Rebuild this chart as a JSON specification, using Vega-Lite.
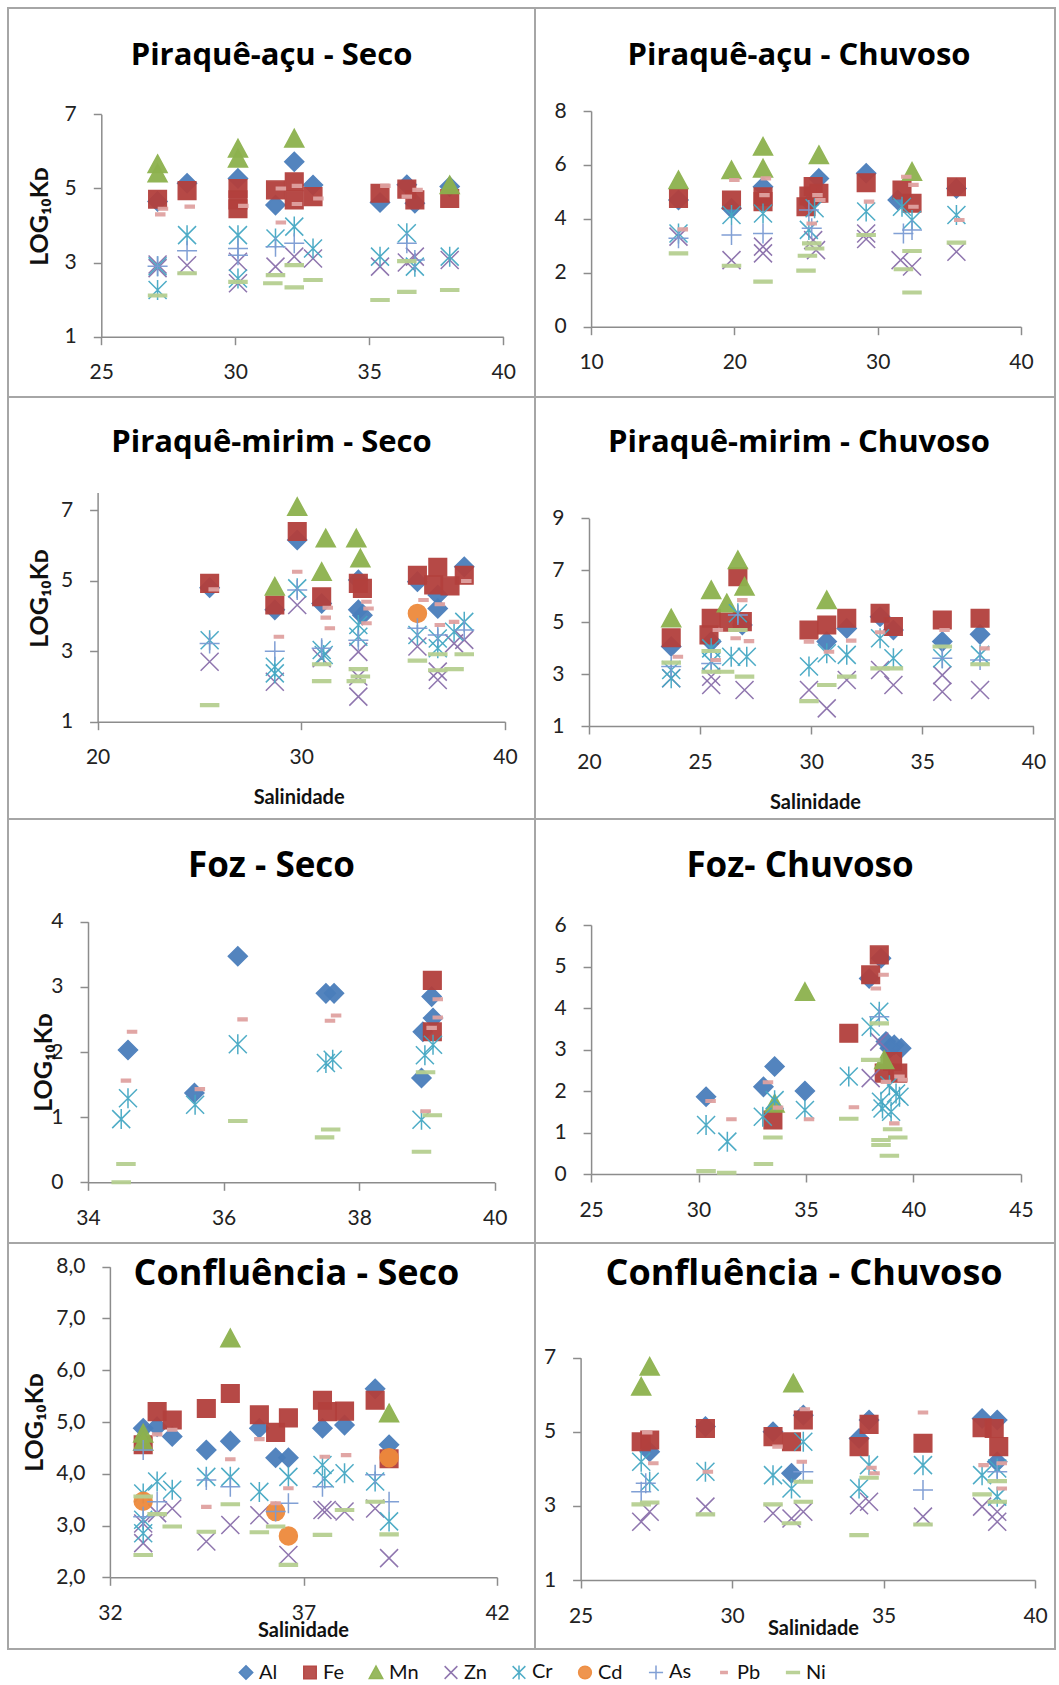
{
"$schema": "https://vega.github.io/schema/vega-lite/v6.json",
"background": "white",
"padding": {"left": 7, "top": 7, "right": 0, "bottom": 0},
"columns": 2,
"spacing": 0,
"bounds": "flush",
"align": "each",
"datasets": {
"p1": [
{"m":"Al","s":27.1,"k":4.65},{"m":"Al","s":28.2,"k":5.14},{"m":"Al","s":30.1,"k":5.27},{"m":"Al","s":31.5,"k":4.55},{"m":"Al","s":32.2,"k":5.72},{"m":"Al","s":32.9,"k":5.09},{"m":"Al","s":35.4,"k":4.62},{"m":"Al","s":36.4,"k":5.1},{"m":"Al","s":36.7,"k":4.6},{"m":"Al","s":38.0,"k":5.05},
{"m":"Fe","s":27.1,"k":4.71},{"m":"Fe","s":28.2,"k":4.94},{"m":"Fe","s":30.1,"k":5.0},{"m":"Fe","s":30.1,"k":4.69},{"m":"Fe","s":30.1,"k":4.45},{"m":"Fe","s":31.5,"k":4.96},{"m":"Fe","s":32.2,"k":5.18},{"m":"Fe","s":32.2,"k":4.69},{"m":"Fe","s":32.9,"k":4.78},{"m":"Fe","s":35.4,"k":4.87},{"m":"Fe","s":36.4,"k":4.98},{"m":"Fe","s":36.7,"k":4.69},{"m":"Fe","s":38.0,"k":4.73},
{"m":"Mn","s":27.1,"k":5.66},{"m":"Mn","s":27.1,"k":5.41},{"m":"Mn","s":30.1,"k":6.08},{"m":"Mn","s":30.1,"k":5.81},{"m":"Mn","s":32.2,"k":6.35},{"m":"Mn","s":38.0,"k":5.09},
{"m":"Zn","s":27.1,"k":2.95},{"m":"Zn","s":27.1,"k":2.85},{"m":"Zn","s":28.2,"k":2.93},{"m":"Zn","s":30.1,"k":3.02},{"m":"Zn","s":30.1,"k":2.44},{"m":"Zn","s":31.5,"k":2.89},{"m":"Zn","s":32.2,"k":3.16},{"m":"Zn","s":32.9,"k":3.11},{"m":"Zn","s":35.4,"k":2.89},{"m":"Zn","s":36.4,"k":3.0},{"m":"Zn","s":36.7,"k":3.16},{"m":"Zn","s":38.0,"k":3.07},
{"m":"Cr","s":27.1,"k":2.9},{"m":"Cr","s":27.1,"k":2.26},{"m":"Cr","s":28.2,"k":3.74},{"m":"Cr","s":30.1,"k":3.74},{"m":"Cr","s":30.1,"k":2.57},{"m":"Cr","s":31.5,"k":3.65},{"m":"Cr","s":32.2,"k":3.97},{"m":"Cr","s":32.9,"k":3.38},{"m":"Cr","s":35.4,"k":3.16},{"m":"Cr","s":36.4,"k":3.79},{"m":"Cr","s":36.7,"k":2.89},{"m":"Cr","s":38.0,"k":3.16},
{"m":"As","s":27.1,"k":2.9},{"m":"As","s":28.2,"k":3.32},{"m":"As","s":30.1,"k":3.38},{"m":"As","s":30.1,"k":3.2},{"m":"As","s":31.5,"k":3.43},{"m":"As","s":32.2,"k":3.52},{"m":"As","s":36.4,"k":3.52},{"m":"As","s":36.7,"k":3.07},
{"m":"Pb","s":27.3,"k":4.45},{"m":"Pb","s":27.2,"k":4.3},{"m":"Pb","s":28.3,"k":4.51},{"m":"Pb","s":30.3,"k":4.53},{"m":"Pb","s":31.7,"k":5.0},{"m":"Pb","s":31.7,"k":4.08},{"m":"Pb","s":32.3,"k":5.07},{"m":"Pb","s":32.3,"k":4.58},{"m":"Pb","s":33.1,"k":4.73},{"m":"Pb","s":35.6,"k":5.07},{"m":"Pb","s":36.4,"k":4.78},{"m":"Pb","s":36.8,"k":4.96},
{"m":"Ni","s":27.1,"k":2.11},{"m":"Ni","s":28.2,"k":2.71},{"m":"Ni","s":30.1,"k":2.48},{"m":"Ni","s":31.5,"k":2.66},{"m":"Ni","s":31.4,"k":2.44},{"m":"Ni","s":32.2,"k":2.93},{"m":"Ni","s":32.2,"k":2.33},{"m":"Ni","s":32.9,"k":2.53},{"m":"Ni","s":35.4,"k":1.99},{"m":"Ni","s":36.4,"k":3.04},{"m":"Ni","s":36.4,"k":2.21},{"m":"Ni","s":38.0,"k":2.26}
],
"p2": [
{"m":"Al","s":16.1,"k":4.7},{"m":"Al","s":19.8,"k":4.39},{"m":"Al","s":22.0,"k":5.19},{"m":"Al","s":25.9,"k":5.5},{"m":"Al","s":25.3,"k":4.6},{"m":"Al","s":29.2,"k":5.69},{"m":"Al","s":31.4,"k":4.7},{"m":"Al","s":35.5,"k":5.13},
{"m":"Fe","s":16.1,"k":4.76},{"m":"Fe","s":19.8,"k":4.7},{"m":"Fe","s":22.0,"k":4.82},{"m":"Fe","s":22.0,"k":4.64},{"m":"Fe","s":25.5,"k":5.2},{"m":"Fe","s":25.2,"k":4.85},{"m":"Fe","s":25.0,"k":4.45},{"m":"Fe","s":25.9,"k":4.95},{"m":"Fe","s":29.2,"k":5.34},{"m":"Fe","s":31.7,"k":5.07},{"m":"Fe","s":32.4,"k":4.58},{"m":"Fe","s":35.5,"k":5.19},
{"m":"Mn","s":16.1,"k":5.44},{"m":"Mn","s":19.8,"k":5.81},{"m":"Mn","s":22.0,"k":6.68},{"m":"Mn","s":22.0,"k":5.87},{"m":"Mn","s":25.9,"k":6.37},{"m":"Mn","s":32.4,"k":5.75},
{"m":"Zn","s":16.1,"k":3.34},{"m":"Zn","s":19.8,"k":2.47},{"m":"Zn","s":22.0,"k":2.97},{"m":"Zn","s":22.0,"k":2.72},{"m":"Zn","s":25.5,"k":3.21},{"m":"Zn","s":25.7,"k":2.84},{"m":"Zn","s":29.2,"k":3.46},{"m":"Zn","s":29.2,"k":3.25},{"m":"Zn","s":31.6,"k":2.47},{"m":"Zn","s":32.4,"k":2.23},{"m":"Zn","s":35.5,"k":2.78},
{"m":"Cr","s":16.1,"k":3.46},{"m":"Cr","s":19.8,"k":4.14},{"m":"Cr","s":22.0,"k":4.2},{"m":"Cr","s":25.6,"k":4.39},{"m":"Cr","s":25.2,"k":3.59},{"m":"Cr","s":29.2,"k":4.27},{"m":"Cr","s":31.7,"k":4.45},{"m":"Cr","s":32.4,"k":3.96},{"m":"Cr","s":35.5,"k":4.14},
{"m":"As","s":16.1,"k":3.28},{"m":"As","s":19.8,"k":3.4},{"m":"As","s":22.0,"k":3.46},{"m":"As","s":25.2,"k":4.33},{"m":"As","s":25.4,"k":3.65},{"m":"As","s":31.8,"k":3.46},{"m":"As","s":32.4,"k":3.59},
{"m":"Pb","s":16.4,"k":3.61},{"m":"Pb","s":20.0,"k":5.44},{"m":"Pb","s":22.2,"k":5.5},{"m":"Pb","s":22.1,"k":4.88},{"m":"Pb","s":25.8,"k":4.88},{"m":"Pb","s":25.4,"k":3.83},{"m":"Pb","s":26.0,"k":4.7},{"m":"Pb","s":29.4,"k":4.64},{"m":"Pb","s":32.0,"k":5.56},{"m":"Pb","s":32.5,"k":5.26},{"m":"Pb","s":32.5,"k":4.45},{"m":"Pb","s":35.7,"k":3.96},
{"m":"Ni","s":16.1,"k":2.72},{"m":"Ni","s":19.8,"k":2.26},{"m":"Ni","s":22.0,"k":1.67},{"m":"Ni","s":25.4,"k":3.09},{"m":"Ni","s":25.6,"k":2.9},{"m":"Ni","s":25.1,"k":2.63},{"m":"Ni","s":25.0,"k":2.08},{"m":"Ni","s":29.2,"k":3.4},{"m":"Ni","s":31.8,"k":2.13},{"m":"Ni","s":32.4,"k":2.81},{"m":"Ni","s":32.4,"k":1.27},{"m":"Ni","s":35.5,"k":3.12}
],
"p3": [
{"m":"Al","s":25.5,"k":4.8},{"m":"Al","s":28.7,"k":4.17},{"m":"Al","s":29.8,"k":6.15},{"m":"Al","s":31.0,"k":4.35},{"m":"Al","s":32.8,"k":5.02},{"m":"Al","s":32.8,"k":4.17},{"m":"Al","s":33.0,"k":4.02},{"m":"Al","s":35.7,"k":4.97},{"m":"Al","s":36.7,"k":4.59},{"m":"Al","s":36.7,"k":4.21},{"m":"Al","s":38.0,"k":5.39},
{"m":"Fe","s":25.5,"k":4.92},{"m":"Fe","s":28.7,"k":4.31},{"m":"Fe","s":29.8,"k":6.39},{"m":"Fe","s":31.0,"k":4.54},{"m":"Fe","s":32.8,"k":4.92},{"m":"Fe","s":33.0,"k":4.78},{"m":"Fe","s":35.7,"k":5.15},{"m":"Fe","s":36.7,"k":5.38},{"m":"Fe","s":36.5,"k":4.88},{"m":"Fe","s":37.3,"k":4.85},{"m":"Fe","s":38.0,"k":5.15},
{"m":"Mn","s":28.7,"k":4.83},{"m":"Mn","s":29.8,"k":7.09},{"m":"Mn","s":31.0,"k":5.25},{"m":"Mn","s":31.2,"k":6.2},{"m":"Mn","s":32.7,"k":6.2},{"m":"Mn","s":32.9,"k":5.63},
{"m":"Zn","s":25.5,"k":2.7},{"m":"Zn","s":28.7,"k":2.13},{"m":"Zn","s":29.8,"k":4.31},{"m":"Zn","s":31.0,"k":2.8},{"m":"Zn","s":32.8,"k":2.98},{"m":"Zn","s":32.8,"k":2.28},{"m":"Zn","s":32.8,"k":1.71},{"m":"Zn","s":35.7,"k":3.13},{"m":"Zn","s":36.7,"k":2.42},{"m":"Zn","s":36.7,"k":2.18},{"m":"Zn","s":37.5,"k":3.22},{"m":"Zn","s":38.0,"k":3.32},
{"m":"Cr","s":25.5,"k":3.31},{"m":"Cr","s":28.7,"k":2.56},{"m":"Cr","s":28.7,"k":2.37},{"m":"Cr","s":29.8,"k":4.78},{"m":"Cr","s":31.0,"k":3.03},{"m":"Cr","s":31.1,"k":2.89},{"m":"Cr","s":32.8,"k":3.74},{"m":"Cr","s":32.8,"k":3.41},{"m":"Cr","s":35.7,"k":3.46},{"m":"Cr","s":36.7,"k":3.36},{"m":"Cr","s":36.7,"k":3.08},{"m":"Cr","s":37.5,"k":3.55},{"m":"Cr","s":38.0,"k":3.83},
{"m":"Cd","s":35.7,"k":4.07},
{"m":"As","s":25.5,"k":3.22},{"m":"As","s":28.7,"k":3.0},{"m":"As","s":29.8,"k":4.73},{"m":"As","s":31.0,"k":3.08},{"m":"As","s":32.8,"k":3.31},{"m":"As","s":35.7,"k":3.65},{"m":"As","s":36.7,"k":3.46},{"m":"As","s":38.0,"k":3.6},
{"m":"Pb","s":25.7,"k":4.75},{"m":"Pb","s":28.9,"k":3.41},{"m":"Pb","s":29.8,"k":5.25},{"m":"Pb","s":31.3,"k":4.23},{"m":"Pb","s":31.2,"k":3.95},{"m":"Pb","s":31.4,"k":3.65},{"m":"Pb","s":33.2,"k":4.4},{"m":"Pb","s":33.3,"k":4.21},{"m":"Pb","s":33.2,"k":3.79},{"m":"Pb","s":36.0,"k":4.45},{"m":"Pb","s":36.8,"k":4.33},{"m":"Pb","s":36.8,"k":3.74},{"m":"Pb","s":37.5,"k":3.83},{"m":"Pb","s":38.1,"k":4.99},
{"m":"Ni","s":25.5,"k":1.47},{"m":"Ni","s":31.0,"k":2.63},{"m":"Ni","s":31.0,"k":2.15},{"m":"Ni","s":32.8,"k":2.49},{"m":"Ni","s":32.9,"k":2.28},{"m":"Ni","s":32.7,"k":2.15},{"m":"Ni","s":35.7,"k":2.73},{"m":"Ni","s":36.7,"k":2.91},{"m":"Ni","s":36.7,"k":2.46},{"m":"Ni","s":37.5,"k":2.49},{"m":"Ni","s":38.0,"k":2.91}
],
"p4": [
{"m":"Al","s":23.7,"k":4.06},{"m":"Al","s":25.5,"k":4.25},{"m":"Al","s":26.9,"k":4.89},{"m":"Al","s":30.7,"k":4.25},{"m":"Al","s":31.6,"k":4.76},{"m":"Al","s":33.1,"k":5.21},{"m":"Al","s":33.7,"k":4.7},{"m":"Al","s":35.9,"k":4.25},{"m":"Al","s":37.6,"k":4.53},
{"m":"Fe","s":23.7,"k":4.4},{"m":"Fe","s":25.5,"k":5.15},{"m":"Fe","s":25.4,"k":4.51},{"m":"Fe","s":26.7,"k":6.75},{"m":"Fe","s":26.9,"k":5.02},{"m":"Fe","s":26.3,"k":5.0},{"m":"Fe","s":29.9,"k":4.7},{"m":"Fe","s":30.7,"k":4.89},{"m":"Fe","s":31.6,"k":5.15},{"m":"Fe","s":33.1,"k":5.34},{"m":"Fe","s":33.7,"k":4.83},{"m":"Fe","s":35.9,"k":5.08},{"m":"Fe","s":37.6,"k":5.15},
{"m":"Mn","s":23.7,"k":5.15},{"m":"Mn","s":25.5,"k":6.24},{"m":"Mn","s":26.2,"k":5.73},{"m":"Mn","s":26.7,"k":7.39},{"m":"Mn","s":27.0,"k":6.37},{"m":"Mn","s":30.7,"k":5.85},
{"m":"Zn","s":23.7,"k":2.84},{"m":"Zn","s":25.5,"k":2.9},{"m":"Zn","s":25.5,"k":2.58},{"m":"Zn","s":27.0,"k":2.39},{"m":"Zn","s":29.9,"k":2.39},{"m":"Zn","s":30.7,"k":1.68},{"m":"Zn","s":31.6,"k":2.77},{"m":"Zn","s":33.1,"k":3.16},{"m":"Zn","s":33.7,"k":2.58},{"m":"Zn","s":35.9,"k":2.96},{"m":"Zn","s":35.9,"k":2.32},{"m":"Zn","s":37.6,"k":2.39},
{"m":"Cr","s":23.7,"k":3.16},{"m":"Cr","s":23.7,"k":2.84},{"m":"Cr","s":25.5,"k":3.99},{"m":"Cr","s":25.5,"k":3.48},{"m":"Cr","s":26.7,"k":5.34},{"m":"Cr","s":26.4,"k":3.67},{"m":"Cr","s":27.1,"k":3.67},{"m":"Cr","s":29.9,"k":3.29},{"m":"Cr","s":30.7,"k":3.8},{"m":"Cr","s":31.6,"k":3.74},{"m":"Cr","s":33.1,"k":4.38},{"m":"Cr","s":33.7,"k":3.61},{"m":"Cr","s":35.9,"k":3.61},{"m":"Cr","s":37.6,"k":3.74},
{"m":"As","s":23.7,"k":3.29},{"m":"As","s":25.5,"k":3.41},{"m":"As","s":26.7,"k":5.28},{"m":"As","s":35.9,"k":3.61},{"m":"As","s":37.6,"k":3.54},
{"m":"Pb","s":24.0,"k":3.67},{"m":"Pb","s":25.8,"k":4.7},{"m":"Pb","s":25.7,"k":3.54},{"m":"Pb","s":26.6,"k":4.38},{"m":"Pb","s":26.9,"k":5.85},{"m":"Pb","s":27.2,"k":4.27},{"m":"Pb","s":29.9,"k":4.25},{"m":"Pb","s":30.8,"k":3.86},{"m":"Pb","s":31.8,"k":4.29},{"m":"Pb","s":33.1,"k":4.61},{"m":"Pb","s":36.0,"k":4.7},{"m":"Pb","s":37.8,"k":3.99},
{"m":"Ni","s":23.7,"k":3.44},{"m":"Ni","s":25.5,"k":3.89},{"m":"Ni","s":25.5,"k":3.09},{"m":"Ni","s":26.1,"k":3.09},{"m":"Ni","s":26.7,"k":4.7},{"m":"Ni","s":27.0,"k":2.9},{"m":"Ni","s":29.9,"k":1.96},{"m":"Ni","s":30.7,"k":2.58},{"m":"Ni","s":31.6,"k":2.9},{"m":"Ni","s":33.1,"k":3.22},{"m":"Ni","s":33.7,"k":3.22},{"m":"Ni","s":35.9,"k":4.06},{"m":"Ni","s":37.6,"k":3.38}
],
"p5": [
{"m":"Al","s":34.59,"k":2.03},{"m":"Al","s":35.57,"k":1.37},{"m":"Al","s":36.21,"k":3.47},{"m":"Al","s":37.51,"k":2.9},{"m":"Al","s":37.63,"k":2.9},{"m":"Al","s":38.92,"k":1.6},{"m":"Al","s":39.07,"k":2.85},{"m":"Al","s":39.09,"k":2.52},{"m":"Al","s":38.94,"k":2.31},
{"m":"Fe","s":39.08,"k":3.1},{"m":"Fe","s":39.08,"k":2.31},
{"m":"Cr","s":34.59,"k":1.29},{"m":"Cr","s":34.49,"k":0.97},{"m":"Cr","s":35.58,"k":1.19},{"m":"Cr","s":36.21,"k":2.12},{"m":"Cr","s":37.51,"k":1.83},{"m":"Cr","s":37.61,"k":1.88},{"m":"Cr","s":38.97,"k":1.95},{"m":"Cr","s":39.09,"k":2.11},{"m":"Cr","s":38.92,"k":0.96},
{"m":"Pb","s":34.65,"k":2.31},{"m":"Pb","s":34.56,"k":1.56},{"m":"Pb","s":35.65,"k":1.43},{"m":"Pb","s":36.28,"k":2.5},{"m":"Pb","s":37.57,"k":2.48},{"m":"Pb","s":37.66,"k":2.56},{"m":"Pb","s":39.16,"k":2.81},{"m":"Pb","s":39.16,"k":2.53},{"m":"Pb","s":39.07,"k":2.37},{"m":"Pb","s":38.98,"k":1.09},
{"m":"Ni","s":34.49,"k":0.0},{"m":"Ni","s":34.56,"k":0.28},{"m":"Ni","s":36.21,"k":0.94},{"m":"Ni","s":37.49,"k":0.69},{"m":"Ni","s":37.58,"k":0.81},{"m":"Ni","s":38.92,"k":0.47},{"m":"Ni","s":38.98,"k":1.69},{"m":"Ni","s":39.08,"k":1.03}
],
"p6": [
{"m":"Al","s":30.35,"k":1.86},{"m":"Al","s":33.02,"k":2.1},{"m":"Al","s":33.54,"k":2.59},{"m":"Al","s":34.95,"k":2.0},{"m":"Al","s":37.94,"k":4.71},{"m":"Al","s":38.49,"k":5.2},{"m":"Al","s":38.72,"k":3.19},{"m":"Al","s":39.11,"k":3.11},{"m":"Al","s":39.43,"k":3.03},{"m":"Al","s":38.9,"k":3.03},
{"m":"Fe","s":36.99,"k":3.39},{"m":"Fe","s":38.41,"k":5.28},{"m":"Fe","s":38.01,"k":4.8},{"m":"Fe","s":33.46,"k":1.3},{"m":"Fe","s":39.03,"k":2.71},{"m":"Fe","s":38.64,"k":2.43},{"m":"Fe","s":39.27,"k":2.43},
{"m":"Mn","s":34.95,"k":4.39},{"m":"Mn","s":33.54,"k":1.7},{"m":"Mn","s":38.64,"k":2.75},
{"m":"Zn","s":38.41,"k":3.19},{"m":"Zn","s":38.01,"k":2.31},
{"m":"Cr","s":30.35,"k":1.18},{"m":"Cr","s":31.34,"k":0.78},{"m":"Cr","s":32.99,"k":1.38},{"m":"Cr","s":33.54,"k":1.78},{"m":"Cr","s":34.95,"k":1.54},{"m":"Cr","s":36.99,"k":2.35},{"m":"Cr","s":38.01,"k":3.55},{"m":"Cr","s":38.41,"k":3.91},{"m":"Cr","s":38.49,"k":1.74},{"m":"Cr","s":38.56,"k":1.58},{"m":"Cr","s":38.96,"k":1.5},{"m":"Cr","s":39.19,"k":1.94},{"m":"Cr","s":39.35,"k":1.86},{"m":"Cr","s":38.88,"k":2.14},
{"m":"As","s":38.41,"k":3.79},
{"m":"Pb","s":30.56,"k":1.76},{"m":"Pb","s":31.53,"k":1.32},{"m":"Pb","s":33.23,"k":2.21},{"m":"Pb","s":33.7,"k":1.6},{"m":"Pb","s":35.14,"k":1.32},{"m":"Pb","s":37.23,"k":1.61},{"m":"Pb","s":38.25,"k":4.47},{"m":"Pb","s":38.61,"k":4.8},{"m":"Pb","s":39.11,"k":1.22},{"m":"Pb","s":39.35,"k":2.35},{"m":"Pb","s":39.5,"k":2.27},{"m":"Pb","s":38.72,"k":2.22},
{"m":"Ni","s":30.35,"k":0.07},{"m":"Ni","s":31.31,"k":0.03},{"m":"Ni","s":33.02,"k":0.24},{"m":"Ni","s":33.46,"k":0.88},{"m":"Ni","s":36.99,"k":1.33},{"m":"Ni","s":38.01,"k":2.75},{"m":"Ni","s":38.41,"k":3.63},{"m":"Ni","s":38.49,"k":0.82},{"m":"Ni","s":38.49,"k":0.7},{"m":"Ni","s":38.88,"k":0.44},{"m":"Ni","s":39.03,"k":1.08},{"m":"Ni","s":39.27,"k":0.88}
],
"p7": [
{"m":"Al","s":32.86,"k":4.88},{"m":"Al","s":33.22,"k":4.91},{"m":"Al","s":33.61,"k":4.72},{"m":"Al","s":34.49,"k":4.46},{"m":"Al","s":35.11,"k":4.63},{"m":"Al","s":35.86,"k":4.88},{"m":"Al","s":36.28,"k":4.31},{"m":"Al","s":36.61,"k":4.31},{"m":"Al","s":37.49,"k":4.88},{"m":"Al","s":38.06,"k":4.94},{"m":"Al","s":38.85,"k":5.64},{"m":"Al","s":39.21,"k":4.56},
{"m":"Fe","s":32.86,"k":4.56},{"m":"Fe","s":33.22,"k":5.2},{"m":"Fe","s":33.61,"k":5.04},{"m":"Fe","s":34.49,"k":5.26},{"m":"Fe","s":35.11,"k":5.55},{"m":"Fe","s":35.86,"k":5.14},{"m":"Fe","s":36.28,"k":4.8},{"m":"Fe","s":36.61,"k":5.08},{"m":"Fe","s":37.49,"k":5.42},{"m":"Fe","s":37.62,"k":5.2},{"m":"Fe","s":38.06,"k":5.21},{"m":"Fe","s":38.85,"k":5.42},{"m":"Fe","s":39.21,"k":4.29},
{"m":"Mn","s":32.86,"k":4.78},{"m":"Mn","s":32.86,"k":4.62},{"m":"Mn","s":35.11,"k":6.62},{"m":"Mn","s":39.21,"k":5.17},
{"m":"Zn","s":32.86,"k":3.04},{"m":"Zn","s":32.86,"k":2.66},{"m":"Zn","s":33.22,"k":3.24},{"m":"Zn","s":33.61,"k":3.33},{"m":"Zn","s":34.49,"k":2.69},{"m":"Zn","s":35.11,"k":3.01},{"m":"Zn","s":35.86,"k":3.2},{"m":"Zn","s":36.61,"k":2.43},{"m":"Zn","s":37.49,"k":3.3},{"m":"Zn","s":37.6,"k":3.3},{"m":"Zn","s":38.06,"k":3.27},{"m":"Zn","s":38.85,"k":3.33},{"m":"Zn","s":39.21,"k":2.37},
{"m":"Cr","s":32.86,"k":3.62},{"m":"Cr","s":32.86,"k":3.11},{"m":"Cr","s":32.86,"k":2.85},{"m":"Cr","s":33.22,"k":3.85},{"m":"Cr","s":33.61,"k":3.69},{"m":"Cr","s":34.49,"k":3.94},{"m":"Cr","s":35.11,"k":3.94},{"m":"Cr","s":35.86,"k":3.65},{"m":"Cr","s":36.61,"k":3.94},{"m":"Cr","s":37.49,"k":4.17},{"m":"Cr","s":37.55,"k":3.91},{"m":"Cr","s":38.06,"k":4.01},{"m":"Cr","s":38.85,"k":3.85},{"m":"Cr","s":39.21,"k":3.08},
{"m":"Cd","s":32.86,"k":3.47},{"m":"Cd","s":36.28,"k":3.27},{"m":"Cd","s":36.61,"k":2.8},{"m":"Cd","s":39.21,"k":4.31},
{"m":"As","s":32.86,"k":4.46},{"m":"As","s":32.86,"k":3.17},{"m":"As","s":33.22,"k":3.46},{"m":"As","s":34.49,"k":3.88},{"m":"As","s":35.11,"k":3.75},{"m":"As","s":36.28,"k":3.27},{"m":"As","s":36.61,"k":3.43},{"m":"As","s":37.49,"k":3.75},{"m":"As","s":38.85,"k":3.98},{"m":"As","s":39.21,"k":3.46},
{"m":"Pb","s":33.22,"k":4.76},{"m":"Pb","s":33.61,"k":4.85},{"m":"Pb","s":34.49,"k":3.36},{"m":"Pb","s":35.11,"k":4.28},{"m":"Pb","s":35.86,"k":4.67},{"m":"Pb","s":36.28,"k":3.43},{"m":"Pb","s":36.61,"k":3.72},{"m":"Pb","s":37.55,"k":4.33},{"m":"Pb","s":38.1,"k":4.36},
{"m":"Ni","s":32.86,"k":3.56},{"m":"Ni","s":32.86,"k":2.43},{"m":"Ni","s":33.22,"k":3.22},{"m":"Ni","s":33.61,"k":2.98},{"m":"Ni","s":34.49,"k":2.88},{"m":"Ni","s":35.11,"k":3.41},{"m":"Ni","s":35.86,"k":2.87},{"m":"Ni","s":36.28,"k":2.98},{"m":"Ni","s":36.61,"k":2.24},{"m":"Ni","s":37.49,"k":2.82},{"m":"Ni","s":38.06,"k":3.3},{"m":"Ni","s":38.85,"k":3.46},{"m":"Ni","s":39.21,"k":2.83}
],
"p8": [
{"m":"Al","s":27.28,"k":4.46},{"m":"Al","s":29.12,"k":5.14},{"m":"Al","s":31.35,"k":5.0},{"m":"Al","s":31.96,"k":3.88},{"m":"Al","s":32.35,"k":5.45},{"m":"Al","s":34.19,"k":4.82},{"m":"Al","s":34.52,"k":5.32},{"m":"Al","s":38.25,"k":5.36},{"m":"Al","s":38.75,"k":5.32},{"m":"Al","s":38.75,"k":4.19},
{"m":"Fe","s":27.0,"k":4.73},{"m":"Fe","s":27.28,"k":4.78},{"m":"Fe","s":29.12,"k":5.09},{"m":"Fe","s":31.35,"k":4.87},{"m":"Fe","s":31.96,"k":4.73},{"m":"Fe","s":32.35,"k":5.32},{"m":"Fe","s":34.19,"k":4.6},{"m":"Fe","s":34.52,"k":5.2},{"m":"Fe","s":36.3,"k":4.69},{"m":"Fe","s":38.25,"k":5.11},{"m":"Fe","s":38.65,"k":5.09},{"m":"Fe","s":38.8,"k":4.6},
{"m":"Mn","s":27.28,"k":6.76},{"m":"Mn","s":27.0,"k":6.22},{"m":"Mn","s":32.02,"k":6.31},
{"m":"Zn","s":27.0,"k":2.57},{"m":"Zn","s":27.28,"k":2.84},{"m":"Zn","s":29.12,"k":2.98},{"m":"Zn","s":31.35,"k":2.8},{"m":"Zn","s":31.96,"k":2.66},{"m":"Zn","s":32.35,"k":2.84},{"m":"Zn","s":34.19,"k":3.02},{"m":"Zn","s":34.52,"k":3.11},{"m":"Zn","s":36.3,"k":2.71},{"m":"Zn","s":38.25,"k":2.98},{"m":"Zn","s":38.75,"k":2.84},{"m":"Zn","s":38.75,"k":2.57},
{"m":"Cr","s":27.0,"k":4.19},{"m":"Cr","s":27.28,"k":3.65},{"m":"Cr","s":29.12,"k":3.92},{"m":"Cr","s":31.35,"k":3.83},{"m":"Cr","s":31.96,"k":3.47},{"m":"Cr","s":32.35,"k":4.73},{"m":"Cr","s":34.19,"k":3.47},{"m":"Cr","s":34.52,"k":4.1},{"m":"Cr","s":36.3,"k":4.1},{"m":"Cr","s":38.25,"k":3.83},{"m":"Cr","s":38.75,"k":4.01},{"m":"Cr","s":38.75,"k":3.25},
{"m":"As","s":27.0,"k":3.38},{"m":"As","s":27.15,"k":3.61},{"m":"As","s":32.35,"k":3.92},{"m":"As","s":36.3,"k":3.43},{"m":"As","s":38.75,"k":3.92},
{"m":"Pb","s":27.2,"k":4.98},{"m":"Pb","s":27.4,"k":4.15},{"m":"Pb","s":29.2,"k":3.92},{"m":"Pb","s":31.5,"k":4.6},{"m":"Pb","s":32.4,"k":5.61},{"m":"Pb","s":32.3,"k":4.19},{"m":"Pb","s":34.6,"k":4.03},{"m":"Pb","s":34.7,"k":3.88},{"m":"Pb","s":36.3,"k":5.52},{"m":"Pb","s":38.3,"k":4.1},{"m":"Pb","s":38.9,"k":4.15},{"m":"Pb","s":38.9,"k":3.47},
{"m":"Ni","s":27.0,"k":3.04},{"m":"Ni","s":27.28,"k":3.09},{"m":"Ni","s":29.12,"k":2.77},{"m":"Ni","s":31.35,"k":3.04},{"m":"Ni","s":31.96,"k":2.53},{"m":"Ni","s":32.35,"k":3.65},{"m":"Ni","s":32.35,"k":3.11},{"m":"Ni","s":34.19,"k":2.21},{"m":"Ni","s":34.52,"k":3.76},{"m":"Ni","s":36.3,"k":2.5},{"m":"Ni","s":38.25,"k":3.31},{"m":"Ni","s":38.75,"k":3.67},{"m":"Ni","s":38.75,"k":3.11}
]
},
"concat": [
{
"width": 527, "height": 389,
"title": {"text": "Piraquê-açu - Seco", "fontSize": 31, "dy": 68},
"data": {"name": "p1"},
"mark": {"type": "point", "size": 400, "strokeWidth": 1.5, "opacity": 0.95},
"encoding": {
"x": {"field": "s", "type": "quantitative", "scale": {"domain": [25, 40], "range": [93.3, 495.3], "nice": false, "zero": false}, "axis": {"values": [25, 30, 35, 40], "offset": -60.3, "title": null}},
"y": {"field": "k", "type": "quantitative", "scale": {"domain": [1, 7], "range": [328.7, 106.3], "nice": false, "zero": false}, "axis": {"values": [1, 3, 5, 7], "offset": -93.3, "title": "LOG₁₀Kᴅ", "titleX": -62.3, "titleY": 208, "titleAngle": 270, "titleAlign": "center", "titleBaseline": "middle"}},
"shape": {"field": "m", "type": "nominal", "scale": {"domain": ["Al","Fe","Mn","Zn","Cr","Cd","As","Pb","Ni"], "range": ["M0,-0.95L0.95,0L0,0.95L-0.95,0Z","M-0.88,-0.88H0.88V0.88H-0.88Z","M0,-0.9L0.95,0.85H-0.95Z","M-0.9,-0.9L0.9,0.9M-0.9,0.9L0.9,-0.9","M-0.9,-0.9L0.9,0.9M-0.9,0.9L0.9,-0.9M0,-1L0,1","M0.9,0A0.9,0.9,0,1,1,-0.9,0A0.9,0.9,0,1,1,0.9,0Z","M-1,0H1M0,-1V1","M-0.45,-0.13H0.45V0.13H-0.45Z","M-0.9,-0.13H0.9V0.13H-0.9Z"]}, "legend": {"title": null, "orient": "none", "legendX": 228, "legendY": 1654, "direction": "horizontal", "columns": 9, "columnPadding": 22, "labelOffset": 3, "symbolSize": 200, "symbolStrokeWidth": 1.5, "labelFont": "Lato", "labelFontSize": 20, "labelColor": "#111", "padding": 0}},
"stroke": {"field": "m", "type": "nominal", "scale": {"domain": ["Al","Fe","Mn","Zn","Cr","Cd","As","Pb","Ni"], "range": ["#4a7ebb","#b3403d","#8db24e","#8a6fab","#45a8c4","#ee8a3c","#7b9bd3","#e0a2a1","#b6cf91"]}, "legend": {"title": null, "orient": "none", "legendX": 228, "legendY": 1654, "direction": "horizontal", "columns": 9, "columnPadding": 22, "labelOffset": 3, "symbolSize": 200, "symbolStrokeWidth": 1.5, "labelFont": "Lato", "labelFontSize": 20, "labelColor": "#111", "padding": 0}},
"fill": {"field": "m", "type": "nominal", "scale": {"domain": ["Al","Fe","Mn","Zn","Cr","Cd","As","Pb","Ni"], "range": ["#4a7ebb","#b3403d","#8db24e","transparent","transparent","#ee8a3c","transparent","#e0a2a1","#b6cf91"]}, "legend": {"title": null, "orient": "none", "legendX": 228, "legendY": 1654, "direction": "horizontal", "columns": 9, "columnPadding": 22, "labelOffset": 3, "symbolSize": 200, "symbolStrokeWidth": 1.5, "labelFont": "Lato", "labelFontSize": 20, "labelColor": "#111", "padding": 0}}
}
},
{
"width": 520, "height": 389,
"title": {"text": "Piraquê-açu - Chuvoso", "fontSize": 31, "dy": 68, "dx": 4},
"data": {"name": "p2"},
"mark": {"type": "point", "size": 400, "strokeWidth": 1.5, "opacity": 0.95},
"encoding": {
"x": {"field": "s", "type": "quantitative", "scale": {"domain": [10, 40], "range": [56.1, 485.9], "nice": false, "zero": false}, "axis": {"values": [10, 20, 30, 40], "offset": -70.3, "title": null}},
"y": {"field": "k", "type": "quantitative", "scale": {"domain": [0, 8], "range": [318.7, 103], "nice": false, "zero": false}, "axis": {"values": [0, 2, 4, 6, 8], "offset": -56.1, "title": null}},
"shape": {"field": "m", "type": "nominal", "scale": {"domain": ["Al","Fe","Mn","Zn","Cr","Cd","As","Pb","Ni"], "range": ["M0,-0.95L0.95,0L0,0.95L-0.95,0Z","M-0.88,-0.88H0.88V0.88H-0.88Z","M0,-0.9L0.95,0.85H-0.95Z","M-0.9,-0.9L0.9,0.9M-0.9,0.9L0.9,-0.9","M-0.9,-0.9L0.9,0.9M-0.9,0.9L0.9,-0.9M0,-1L0,1","M0.9,0A0.9,0.9,0,1,1,-0.9,0A0.9,0.9,0,1,1,0.9,0Z","M-1,0H1M0,-1V1","M-0.45,-0.13H0.45V0.13H-0.45Z","M-0.9,-0.13H0.9V0.13H-0.9Z"]}, "legend": {"title": null}},
"stroke": {"field": "m", "type": "nominal", "scale": {"domain": ["Al","Fe","Mn","Zn","Cr","Cd","As","Pb","Ni"], "range": ["#4a7ebb","#b3403d","#8db24e","#8a6fab","#45a8c4","#ee8a3c","#7b9bd3","#e0a2a1","#b6cf91"]}, "legend": {"title": null}},
"fill": {"field": "m", "type": "nominal", "scale": {"domain": ["Al","Fe","Mn","Zn","Cr","Cd","As","Pb","Ni"], "range": ["#4a7ebb","#b3403d","#8db24e","transparent","transparent","#ee8a3c","transparent","#e0a2a1","#b6cf91"]}, "legend": {"title": null}}
}
},
{
"width": 527, "height": 422,
"title": {"text": "Piraquê-mirim - Seco", "fontSize": 31, "dy": 66},
"data": {"name": "p3"},
"mark": {"type": "point", "size": 400, "strokeWidth": 1.5, "opacity": 0.95},
"encoding": {
"x": {"field": "s", "type": "quantitative", "scale": {"domain": [20, 40], "range": [89.6, 497], "nice": false, "zero": false}, "axis": {"values": [20, 30, 40], "offset": -97.3, "title": "Salinidade", "titleX": 290.6, "titleY": 76, "titleBaseline": "middle", "titleFontSize": 20}},
"y": {"field": "k", "type": "quantitative", "scale": {"domain": [1, 7.5], "range": [324.7, 95.4], "nice": false, "zero": false}, "axis": {"values": [1, 3, 5, 7], "offset": -89.6, "title": "LOG₁₀Kᴅ", "titleX": -58.6, "titleY": 201, "titleAngle": 270, "titleAlign": "center", "titleBaseline": "middle"}},
"shape": {"field": "m", "type": "nominal", "scale": {"domain": ["Al","Fe","Mn","Zn","Cr","Cd","As","Pb","Ni"], "range": ["M0,-0.95L0.95,0L0,0.95L-0.95,0Z","M-0.88,-0.88H0.88V0.88H-0.88Z","M0,-0.9L0.95,0.85H-0.95Z","M-0.9,-0.9L0.9,0.9M-0.9,0.9L0.9,-0.9","M-0.9,-0.9L0.9,0.9M-0.9,0.9L0.9,-0.9M0,-1L0,1","M0.9,0A0.9,0.9,0,1,1,-0.9,0A0.9,0.9,0,1,1,0.9,0Z","M-1,0H1M0,-1V1","M-0.45,-0.13H0.45V0.13H-0.45Z","M-0.9,-0.13H0.9V0.13H-0.9Z"]}, "legend": {"title": null}},
"stroke": {"field": "m", "type": "nominal", "scale": {"domain": ["Al","Fe","Mn","Zn","Cr","Cd","As","Pb","Ni"], "range": ["#4a7ebb","#b3403d","#8db24e","#8a6fab","#45a8c4","#ee8a3c","#7b9bd3","#e0a2a1","#b6cf91"]}, "legend": {"title": null}},
"fill": {"field": "m", "type": "nominal", "scale": {"domain": ["Al","Fe","Mn","Zn","Cr","Cd","As","Pb","Ni"], "range": ["#4a7ebb","#b3403d","#8db24e","transparent","transparent","#ee8a3c","transparent","#e0a2a1","#b6cf91"]}, "legend": {"title": null}}
}
},
{
"width": 520, "height": 422,
"title": {"text": "Piraquê-mirim - Chuvoso", "fontSize": 31, "dy": 66, "dx": 4},
"data": {"name": "p4"},
"mark": {"type": "point", "size": 400, "strokeWidth": 1.5, "opacity": 0.95},
"encoding": {
"x": {"field": "s", "type": "quantitative", "scale": {"domain": [20, 40], "range": [54, 498.4], "nice": false, "zero": false}, "axis": {"values": [20, 25, 30, 35, 40], "offset": -93, "title": "Salinidade", "titleX": 280, "titleY": 76, "titleBaseline": "middle", "titleFontSize": 20}},
"y": {"field": "k", "type": "quantitative", "scale": {"domain": [1, 9], "range": [329, 121.3], "nice": false, "zero": false}, "axis": {"values": [1, 3, 5, 7, 9], "offset": -54, "title": null}},
"shape": {"field": "m", "type": "nominal", "scale": {"domain": ["Al","Fe","Mn","Zn","Cr","Cd","As","Pb","Ni"], "range": ["M0,-0.95L0.95,0L0,0.95L-0.95,0Z","M-0.88,-0.88H0.88V0.88H-0.88Z","M0,-0.9L0.95,0.85H-0.95Z","M-0.9,-0.9L0.9,0.9M-0.9,0.9L0.9,-0.9","M-0.9,-0.9L0.9,0.9M-0.9,0.9L0.9,-0.9M0,-1L0,1","M0.9,0A0.9,0.9,0,1,1,-0.9,0A0.9,0.9,0,1,1,0.9,0Z","M-1,0H1M0,-1V1","M-0.45,-0.13H0.45V0.13H-0.45Z","M-0.9,-0.13H0.9V0.13H-0.9Z"]}, "legend": {"title": null}},
"stroke": {"field": "m", "type": "nominal", "scale": {"domain": ["Al","Fe","Mn","Zn","Cr","Cd","As","Pb","Ni"], "range": ["#4a7ebb","#b3403d","#8db24e","#8a6fab","#45a8c4","#ee8a3c","#7b9bd3","#e0a2a1","#b6cf91"]}, "legend": {"title": null}},
"fill": {"field": "m", "type": "nominal", "scale": {"domain": ["Al","Fe","Mn","Zn","Cr","Cd","As","Pb","Ni"], "range": ["#4a7ebb","#b3403d","#8db24e","transparent","transparent","#ee8a3c","transparent","#e0a2a1","#b6cf91"]}, "legend": {"title": null}}
}
},
{
"width": 527, "height": 424,
"title": {"text": "Foz - Seco", "fontSize": 35, "dy": 69},
"data": {"name": "p5"},
"mark": {"type": "point", "size": 400, "strokeWidth": 1.5, "opacity": 0.95},
"encoding": {
"x": {"field": "s", "type": "quantitative", "scale": {"domain": [34, 40], "range": [80, 486.7], "nice": false, "zero": false}, "axis": {"values": [34, 36, 38, 40], "offset": -60.7, "title": null}},
"y": {"field": "k", "type": "quantitative", "scale": {"domain": [0, 4], "range": [363.3, 102.7], "nice": false, "zero": false}, "axis": {"values": [0, 1, 2, 3, 4], "offset": -80, "title": "LOG₁₀Kᴅ", "titleX": -45, "titleY": 243, "titleAngle": 270, "titleAlign": "center", "titleBaseline": "middle"}},
"shape": {"field": "m", "type": "nominal", "scale": {"domain": ["Al","Fe","Mn","Zn","Cr","Cd","As","Pb","Ni"], "range": ["M0,-0.95L0.95,0L0,0.95L-0.95,0Z","M-0.88,-0.88H0.88V0.88H-0.88Z","M0,-0.9L0.95,0.85H-0.95Z","M-0.9,-0.9L0.9,0.9M-0.9,0.9L0.9,-0.9","M-0.9,-0.9L0.9,0.9M-0.9,0.9L0.9,-0.9M0,-1L0,1","M0.9,0A0.9,0.9,0,1,1,-0.9,0A0.9,0.9,0,1,1,0.9,0Z","M-1,0H1M0,-1V1","M-0.45,-0.13H0.45V0.13H-0.45Z","M-0.9,-0.13H0.9V0.13H-0.9Z"]}, "legend": {"title": null}},
"stroke": {"field": "m", "type": "nominal", "scale": {"domain": ["Al","Fe","Mn","Zn","Cr","Cd","As","Pb","Ni"], "range": ["#4a7ebb","#b3403d","#8db24e","#8a6fab","#45a8c4","#ee8a3c","#7b9bd3","#e0a2a1","#b6cf91"]}, "legend": {"title": null}},
"fill": {"field": "m", "type": "nominal", "scale": {"domain": ["Al","Fe","Mn","Zn","Cr","Cd","As","Pb","Ni"], "range": ["#4a7ebb","#b3403d","#8db24e","transparent","transparent","#ee8a3c","transparent","#e0a2a1","#b6cf91"]}, "legend": {"title": null}}
}
},
{
"width": 520, "height": 424,
"title": {"text": "Foz- Chuvoso", "fontSize": 35, "dy": 69, "dx": 5},
"data": {"name": "p6"},
"mark": {"type": "point", "size": 400, "strokeWidth": 1.5, "opacity": 0.95},
"encoding": {
"x": {"field": "s", "type": "quantitative", "scale": {"domain": [25, 45], "range": [56.1, 485.9], "nice": false, "zero": false}, "axis": {"values": [25, 30, 35, 40, 45], "offset": -69, "title": null}},
"y": {"field": "k", "type": "quantitative", "scale": {"domain": [0, 6], "range": [355, 106], "nice": false, "zero": false}, "axis": {"values": [0, 1, 2, 3, 4, 5, 6], "offset": -56.1, "title": null}},
"shape": {"field": "m", "type": "nominal", "scale": {"domain": ["Al","Fe","Mn","Zn","Cr","Cd","As","Pb","Ni"], "range": ["M0,-0.95L0.95,0L0,0.95L-0.95,0Z","M-0.88,-0.88H0.88V0.88H-0.88Z","M0,-0.9L0.95,0.85H-0.95Z","M-0.9,-0.9L0.9,0.9M-0.9,0.9L0.9,-0.9","M-0.9,-0.9L0.9,0.9M-0.9,0.9L0.9,-0.9M0,-1L0,1","M0.9,0A0.9,0.9,0,1,1,-0.9,0A0.9,0.9,0,1,1,0.9,0Z","M-1,0H1M0,-1V1","M-0.45,-0.13H0.45V0.13H-0.45Z","M-0.9,-0.13H0.9V0.13H-0.9Z"]}, "legend": {"title": null}},
"stroke": {"field": "m", "type": "nominal", "scale": {"domain": ["Al","Fe","Mn","Zn","Cr","Cd","As","Pb","Ni"], "range": ["#4a7ebb","#b3403d","#8db24e","#8a6fab","#45a8c4","#ee8a3c","#7b9bd3","#e0a2a1","#b6cf91"]}, "legend": {"title": null}},
"fill": {"field": "m", "type": "nominal", "scale": {"domain": ["Al","Fe","Mn","Zn","Cr","Cd","As","Pb","Ni"], "range": ["#4a7ebb","#b3403d","#8db24e","transparent","transparent","#ee8a3c","transparent","#e0a2a1","#b6cf91"]}, "legend": {"title": null}}
}
},
{
"width": 527, "height": 406,
"title": {"text": "Confluência  - Seco", "fontSize": 36, "dy": 54, "dx": 25},
"data": {"name": "p7"},
"mark": {"type": "point", "size": 400, "strokeWidth": 1.5, "opacity": 0.95},
"encoding": {
"x": {"field": "s", "type": "quantitative", "scale": {"domain": [32, 42], "range": [101.9, 489.1], "nice": false, "zero": false}, "axis": {"values": [32, 37, 42], "offset": -71.7, "title": "Salinidade", "titleX": 295, "titleY": 53, "titleBaseline": "middle", "titleFontSize": 20}},
"y": {"field": "k", "type": "quantitative", "scale": {"domain": [2, 8], "range": [334.3, 23.7], "nice": false, "zero": false}, "axis": {"values": [2, 3, 4, 5, 6, 7, 8], "labelExpr": "replace(format(datum.value, '.1f'), '.', ',')", "offset": -101.9, "title": "LOG₁₀Kᴅ", "titleX": -75.9, "titleY": 179, "titleAngle": 270, "titleAlign": "center", "titleBaseline": "middle"}},
"shape": {"field": "m", "type": "nominal", "scale": {"domain": ["Al","Fe","Mn","Zn","Cr","Cd","As","Pb","Ni"], "range": ["M0,-0.95L0.95,0L0,0.95L-0.95,0Z","M-0.88,-0.88H0.88V0.88H-0.88Z","M0,-0.9L0.95,0.85H-0.95Z","M-0.9,-0.9L0.9,0.9M-0.9,0.9L0.9,-0.9","M-0.9,-0.9L0.9,0.9M-0.9,0.9L0.9,-0.9M0,-1L0,1","M0.9,0A0.9,0.9,0,1,1,-0.9,0A0.9,0.9,0,1,1,0.9,0Z","M-1,0H1M0,-1V1","M-0.45,-0.13H0.45V0.13H-0.45Z","M-0.9,-0.13H0.9V0.13H-0.9Z"]}, "legend": {"title": null}},
"stroke": {"field": "m", "type": "nominal", "scale": {"domain": ["Al","Fe","Mn","Zn","Cr","Cd","As","Pb","Ni"], "range": ["#4a7ebb","#b3403d","#8db24e","#8a6fab","#45a8c4","#ee8a3c","#7b9bd3","#e0a2a1","#b6cf91"]}, "legend": {"title": null}},
"fill": {"field": "m", "type": "nominal", "scale": {"domain": ["Al","Fe","Mn","Zn","Cr","Cd","As","Pb","Ni"], "range": ["#4a7ebb","#b3403d","#8db24e","transparent","transparent","#ee8a3c","transparent","#e0a2a1","#b6cf91"]}, "legend": {"title": null}}
}
},
{
"width": 520, "height": 406,
"title": {"text": "Confluência  - Chuvoso", "fontSize": 36, "dy": 54, "dx": 9},
"data": {"name": "p8"},
"mark": {"type": "point", "size": 400, "strokeWidth": 1.5, "opacity": 0.95},
"encoding": {
"x": {"field": "s", "type": "quantitative", "scale": {"domain": [25, 40], "range": [45.6, 500.1], "nice": false, "zero": false}, "axis": {"values": [25, 30, 35, 40], "offset": -69, "title": "Salinidade", "titleX": 278, "titleY": 48, "titleBaseline": "middle", "titleFontSize": 20}},
"y": {"field": "k", "type": "quantitative", "scale": {"domain": [1, 7], "range": [337, 114.7], "nice": false, "zero": false}, "axis": {"values": [1, 3, 5, 7], "offset": -45.6, "title": null}},
"shape": {"field": "m", "type": "nominal", "scale": {"domain": ["Al","Fe","Mn","Zn","Cr","Cd","As","Pb","Ni"], "range": ["M0,-0.95L0.95,0L0,0.95L-0.95,0Z","M-0.88,-0.88H0.88V0.88H-0.88Z","M0,-0.9L0.95,0.85H-0.95Z","M-0.9,-0.9L0.9,0.9M-0.9,0.9L0.9,-0.9","M-0.9,-0.9L0.9,0.9M-0.9,0.9L0.9,-0.9M0,-1L0,1","M0.9,0A0.9,0.9,0,1,1,-0.9,0A0.9,0.9,0,1,1,0.9,0Z","M-1,0H1M0,-1V1","M-0.45,-0.13H0.45V0.13H-0.45Z","M-0.9,-0.13H0.9V0.13H-0.9Z"]}, "legend": {"title": null}},
"stroke": {"field": "m", "type": "nominal", "scale": {"domain": ["Al","Fe","Mn","Zn","Cr","Cd","As","Pb","Ni"], "range": ["#4a7ebb","#b3403d","#8db24e","#8a6fab","#45a8c4","#ee8a3c","#7b9bd3","#e0a2a1","#b6cf91"]}, "legend": {"title": null}},
"fill": {"field": "m", "type": "nominal", "scale": {"domain": ["Al","Fe","Mn","Zn","Cr","Cd","As","Pb","Ni"], "range": ["#4a7ebb","#b3403d","#8db24e","transparent","transparent","#ee8a3c","transparent","#e0a2a1","#b6cf91"]}, "legend": {"title": null}}
}
}
],
"config": {
"view": {"stroke": "#a6a6a6", "strokeWidth": 2},
"title": {"font": "Open Sans", "fontWeight": "bold", "color": "#000", "anchor": "middle", "frame": "group", "offset": 0, "baseline": "middle"},
"axis": {"grid": false, "domainColor": "#8c8c8c", "domainWidth": 1.5, "tickColor": "#8c8c8c", "tickWidth": 1.5, "tickSize": 8, "labelFont": "Lato", "labelFontSize": 21, "labelColor": "#222", "labelPadding": 17, "labelFlush": false, "labelOverlap": false, "titleFont": "Lato", "titleFontSize": 25, "titleFontWeight": "bold", "titleColor": "#111"}
}
}
